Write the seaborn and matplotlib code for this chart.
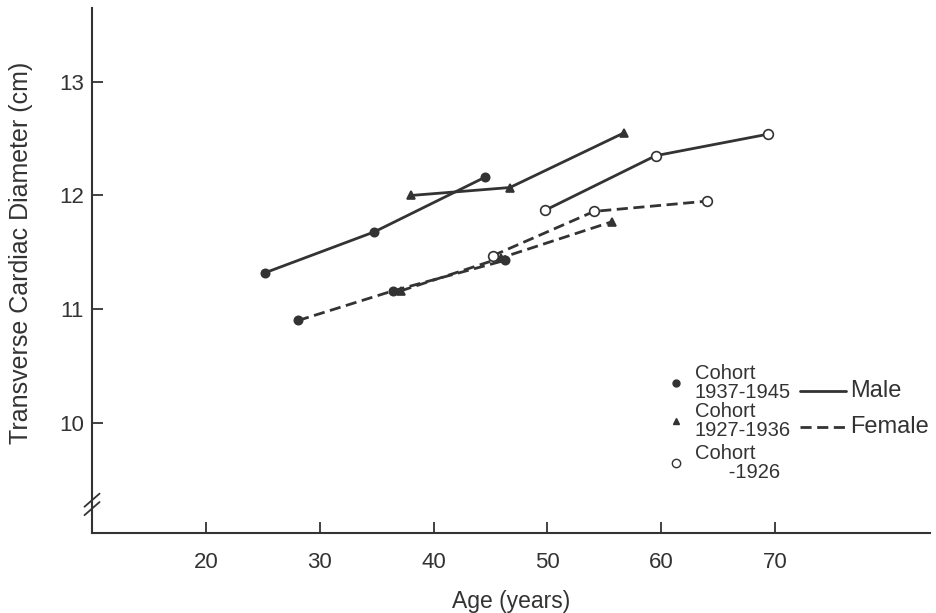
import matplotlib
matplotlib.use("Agg")
import matplotlib.pyplot as plt
import seaborn as sns
import pandas as pd
from matplotlib.lines import Line2D

sns.set_theme(style="white")
plt.rcParams['font.family'] = ['Liberation Sans', 'DejaVu Sans']

# ---- data ----
male_c1937_age = [25.2, 34.8, 44.5]
male_c1937_val = [11.32, 11.68, 12.16]
male_c1927_age = [38.0, 46.7, 56.7]
male_c1927_val = [12.00, 12.07, 12.55]
male_c1926_age = [49.8, 59.5, 69.4]
male_c1926_val = [11.87, 12.35, 12.54]
female_c1937_age = [28.1, 36.4, 46.3]
female_c1937_val = [10.90, 11.16, 11.43]
female_c1927_age = [37.1, 45.9, 55.7]
female_c1927_val = [11.16, 11.45, 11.77]
female_c1926_age = [45.2, 54.1, 64.0]
female_c1926_val = [11.47, 11.86, 11.95]

cohort_labels = ["Cohort\n1937-1945", "Cohort\n1927-1936", "Cohort\n      -1926"]
sex_labels = ["Male", "Female"]
x_ticks = [20, 30, 40, 50, 60, 70]
y_ticks = [10, 11, 12, 13]

rows = []
series = [
    ("Male", "1937-1945", male_c1937_age, male_c1937_val),
    ("Male", "1927-1936", male_c1927_age, male_c1927_val),
    ("Male", "-1926", male_c1926_age, male_c1926_val),
    ("Female", "1937-1945", female_c1937_age, female_c1937_val),
    ("Female", "1927-1936", female_c1927_age, female_c1927_val),
    ("Female", "-1926", female_c1926_age, female_c1926_val),
]
for sex, coh, ages, vals in series:
    for a, v in zip(ages, vals):
        rows.append({"sex": sex, "cohort": coh, "age": a, "val": v})
df = pd.DataFrame(rows)

ink = "#333333"
markers = {"1937-1945": "o", "1927-1936": "^", "-1926": "o"}
mfc = {"1937-1945": ink, "1927-1936": ink, "-1926": "white"}
msize = {"1937-1945": 6, "1927-1936": 6, "-1926": 7}

fig = plt.figure(figsize=(9.36, 6.13), dpi=100)
ax = fig.add_axes([0.0983, 0.1305, 0.8953, 0.8565])

for (sex, coh), g in df.groupby(["sex", "cohort"], sort=False):
    sns.lineplot(data=g, x="age", y="val", ax=ax, color=ink, lw=2,
                 marker=markers[coh], markersize=msize[coh],
                 markerfacecolor=mfc[coh], markeredgecolor=ink,
                 markeredgewidth=1.2, legend=False)
    if sex == "Female":
        ax.lines[-1].set_dashes((4, 2))

ax.set_xlim(10, 83.6)
ax.set_ylim(9.03, 13.65)
ax.set_xticks(x_ticks)
ax.set_yticks(y_ticks)
ax.tick_params(direction="in", length=8, width=1.3, colors=ink,
               labelsize=16, bottom=True, left=True)
ax.tick_params(axis="x", pad=14)
ax.tick_params(axis="y", pad=6)
for lab in ax.get_xticklabels() + ax.get_yticklabels():
    lab.set_color(ink)
ax.spines["top"].set_visible(False)
ax.spines["right"].set_visible(False)
for s in ["left", "bottom"]:
    ax.spines[s].set_color(ink)
    ax.spines[s].set_linewidth(1.5)
ax.set_xlabel("Age (years)", fontsize=16.5, color=ink, labelpad=12)
ax.set_ylabel("Transverse Cardiac Diameter (cm)", fontsize=18, color=ink)
ax.yaxis.set_label_coords(-0.071, 0.533)

# axis break marks
for dy in (-0.016, 0.0):
    ax.plot([-0.009, 0.009], [0.05 + dy, 0.075 + dy], transform=ax.transAxes,
            color=ink, lw=1.3, clip_on=False)

# custom legend
def px(x, y):
    return (x / 936, 1 - y / 613)

lg_y = [383, 421, 463]
for i, coh in enumerate(["1937-1945", "1927-1936", "-1926"]):
    fx, fy = px(676, lg_y[i])
    fig.add_artist(Line2D([fx], [fy], marker=markers[coh], markersize=5 if coh != "-1926" else 6,
                          markerfacecolor=mfc[coh], markeredgecolor=ink, color=ink,
                          transform=fig.transFigure))
    tx, ty = px(695, lg_y[i])
    fig.text(tx, ty, cohort_labels[i], fontsize=14.5, color=ink, va="center",
             ha="left", linespacing=0.95)

for j, (sex, yy) in enumerate(zip(sex_labels, [391, 427])):
    x0, y0 = px(800, yy)
    x1, _ = px(846, yy)
    ln = Line2D([x0, x1], [y0, y0], color=ink, lw=2, transform=fig.transFigure)
    if sex == "Female":
        ln.set_dashes((4, 2))
    fig.add_artist(ln)
    tx, ty = px(850, yy)
    fig.text(tx, ty, sex, fontsize=17, color=ink, va="center", ha="left")

fig.savefig("out.png", dpi=100, facecolor="white")
